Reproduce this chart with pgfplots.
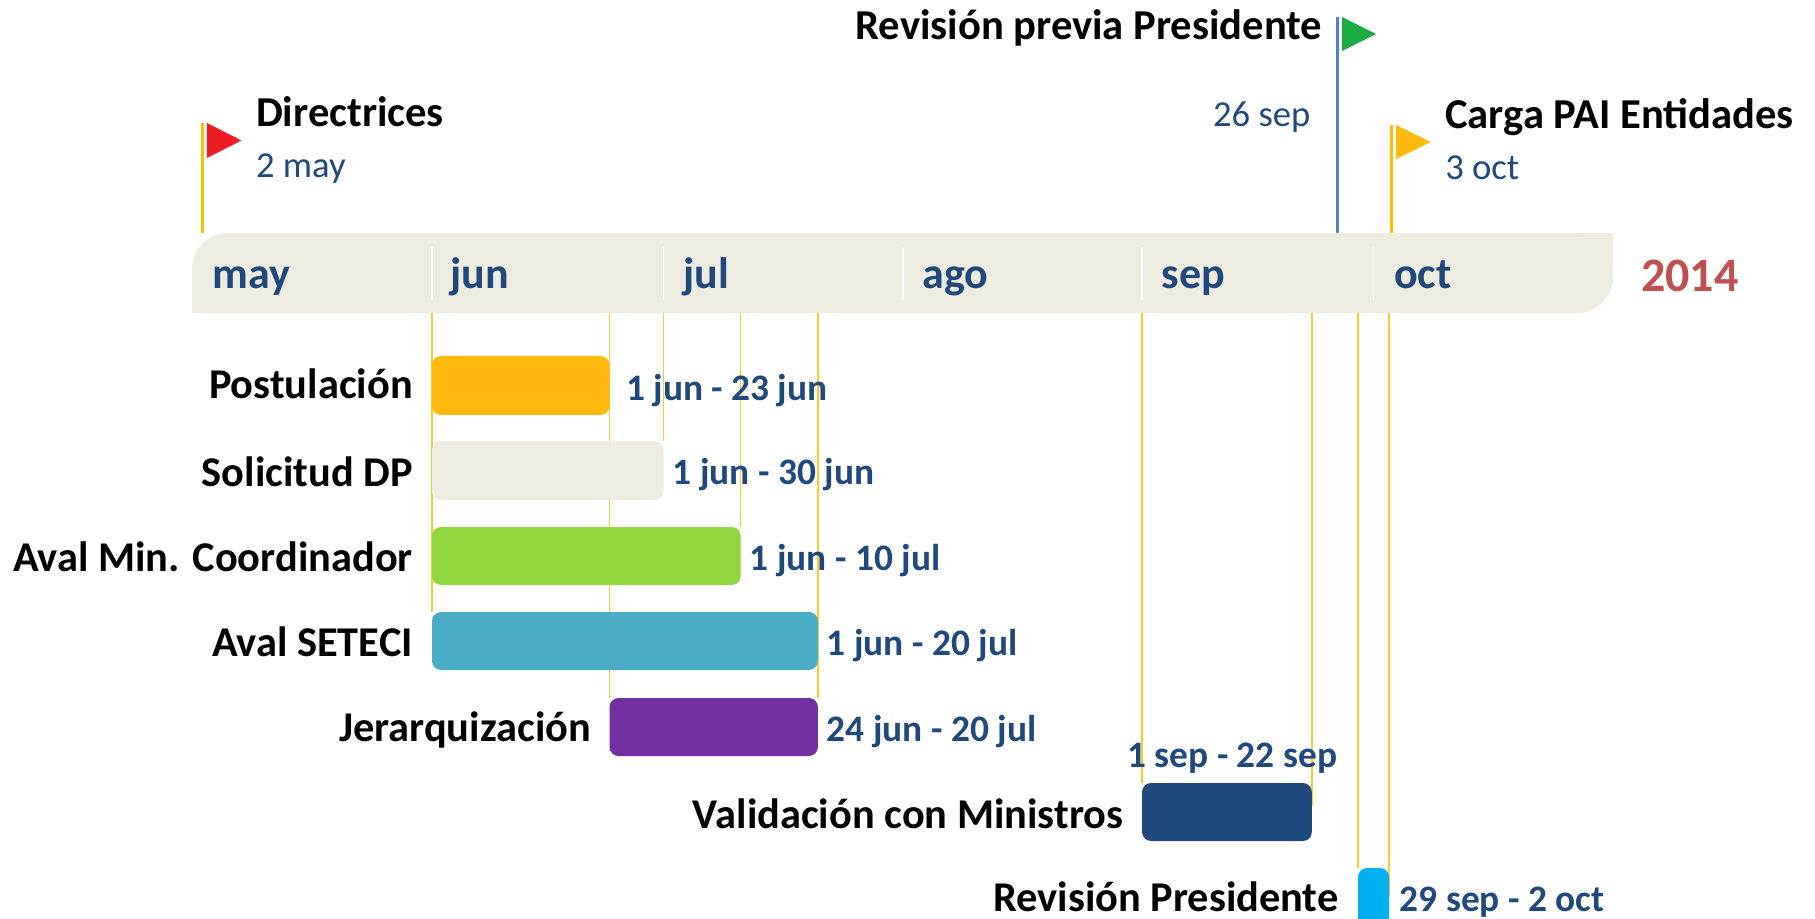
\documentclass[border=0pt]{standalone}
\usepackage{fontspec}
\setmainfont{Carlito}
\usepackage{pgfplots}
\pgfplotsset{compat=1.18}

\definecolor{bandc}{HTML}{EEECE1}
\definecolor{linec}{HTML}{FFC000}
\definecolor{navy}{HTML}{1F497D}
\definecolor{poleblue}{HTML}{4F81BD}
\definecolor{flagred}{HTML}{ED1C24}
\definecolor{flaggreen}{HTML}{1AAB40}
\definecolor{flagorange}{HTML}{FFB90F}
\definecolor{yearred}{HTML}{C0504D}
\definecolor{barlime}{HTML}{92D740}
\definecolor{barteal}{HTML}{4BACC6}
\definecolor{barpurple}{HTML}{7030A0}
\definecolor{barsky}{HTML}{00B0F0}

% x is the day of 2014 counted from 1 jan = 0, y is the pixel row of the picture
\newcommand{\ganttbar}[5]{\addplot[fill=#5,draw=none,rounded corners=4.5pt] coordinates {(#1,#3)(#2,#3)(#2,#4)(#1,#4)} --cycle;}
\newcommand{\guide}[3]{\addplot[draw=linec!85,line width=.7pt] coordinates {(#1,#2)(#1,#3)};}
\newcommand{\monthsep}[1]{\addplot[draw=white,line width=.7pt] coordinates {(#1,247)(#1,300)};}
\newcommand{\flag}[6]{\addplot[fill=#6,draw=none] coordinates {(#1,#3)(#2,#5)(#1,#4)} --cycle;}
\newcommand{\head}[3]{\node[inner sep=0pt,#1,font=\fontsize{21.3pt}{24pt}\selectfont\bfseries] at (axis cs:#2) {#3};}
\newcommand{\sub}[3]{\node[inner sep=0pt,#1,text=navy,font=\fontsize{18.3pt}{24pt}\selectfont] at (axis cs:#2) {#3};}
\newcommand{\task}[3]{\node[inner sep=0pt,anchor=base east,font=\fontsize{21.2pt}{24pt}\selectfont\bfseries] at (axis cs:#1,#2) {#3};}
\newcommand{\datelbl}[3]{\node[inner sep=0pt,anchor=base west,text=navy,font=\fontsize{18.7pt}{24pt}\selectfont\bfseries] at (axis cs:#1,#2) {#3};}
\newcommand{\monthlbl}[2]{\node[inner sep=0pt,anchor=base west,text=navy,font=\fontsize{22pt}{24pt}\selectfont\bfseries] at (axis cs:#1,289) {#2};}

\begin{document}
\begin{tikzpicture}
\useasboundingbox (0,0) rectangle (907.5pt,459.5pt);
\begin{axis}[
    at={(0,0)},anchor=south west,
    scale only axis,width=907.5pt,height=459.5pt,
    xmin=95.02,xmax=330.2,
    ymin=0,ymax=919,y dir=reverse,
    hide axis,
]
% milestone poles
\addplot[draw=linec,line width=1.5pt] coordinates {(121.2,123)(121.2,233)};
\addplot[draw=poleblue,line width=1.5pt] coordinates {(268.3,17)(268.3,233)};
\addplot[draw=linec,line width=1.5pt] coordinates {(275.3,125)(275.3,233)};
\flag{121.84}{126.30}{123}{158}{140.5}{flagred}
\flag{268.92}{273.33}{17}{51}{34}{flaggreen}
\flag{275.92}{280.40}{125}{159}{142}{flagorange}

% month band
\addplot[fill=bandc,draw=none,rounded corners=18pt] coordinates {(119.9,233)(304.04,233)(304.04,313)(119.9,313)} --cycle;
\addplot[fill=bandc,draw=none] coordinates {(119.9,270)(150,270)(150,313)(119.9,313)} --cycle;
\addplot[fill=bandc,draw=none] coordinates {(290,233)(304.04,233)(304.04,270)(290,270)} --cycle;
\monthsep{151}\monthsep{181}\monthsep{212}\monthsep{243}\monthsep{273}

% guides from the band down to the bars
\guide{151}{313}{612}
\guide{174}{313}{698}
\guide{181}{313}{441}
\guide{191}{313}{527}
\guide{201}{313}{698}
\guide{243}{313}{783}
\guide{265}{313}{805}
\guide{271}{313}{868}
\guide{275}{313}{897}

% tasks
\ganttbar{151}{174}{356}{415}{flagorange}
\ganttbar{151}{181}{441}{500}{bandc}
\ganttbar{151}{191}{527}{585}{barlime}
\ganttbar{151}{201}{612}{670}{barteal}
\ganttbar{174}{201}{698}{756}{barpurple}
\ganttbar{243}{265}{783}{841}{navy}
\ganttbar{271}{275}{868}{960}{barsky}

\monthlbl{122.5}{may}
\monthlbl{153.3}{jun}
\monthlbl{183.5}{jul}
\monthlbl{214.5}{ago}
\monthlbl{245.5}{sep}
\monthlbl{275.6}{oct}
\node[inner sep=0pt,anchor=base west,text=yearred,font=\fontsize{24pt}{24pt}\selectfont\bfseries] at (axis cs:307.6,292) {2014};

\head{anchor=base west}{128.15,127}{Directrices}
\sub{anchor=base west}{128.15,178}{2 may}
\head{anchor=base east}{266.4,40}{Revisión previa Presidente}
\sub{anchor=base east}{264.85,127}{26 sep}
\head{anchor=base west}{282.25,129}{Carga PAI Entidades}
\sub{anchor=base west}{282.25,180}{3 oct}

\task{148.55}{399}{Postulación}
\task{148.55}{487}{Solicitud DP}
\task{148.55}{571}{Aval Min. Coordinador}
\task{148.55}{656}{Aval SETECI}
\task{171.65}{741}{Jerarquización}
\task{240.6}{828}{Validación con Ministros}
\task{268.5}{911}{Revisión Presidente}

\datelbl{176.1}{401}{1 jun - 23 jun}
\datelbl{182.15}{485}{1 jun - 30 jun}
\datelbl{192.1}{570}{1 jun - 10 jul}
\datelbl{202.1}{655}{1 jun - 20 jul}
\datelbl{202.1}{741}{24 jun - 20 jul}
\datelbl{241.05}{767}{1 sep - 22 sep}
\datelbl{276.35}{911}{29 sep - 2 oct}
\end{axis}
\end{tikzpicture}
\end{document}
